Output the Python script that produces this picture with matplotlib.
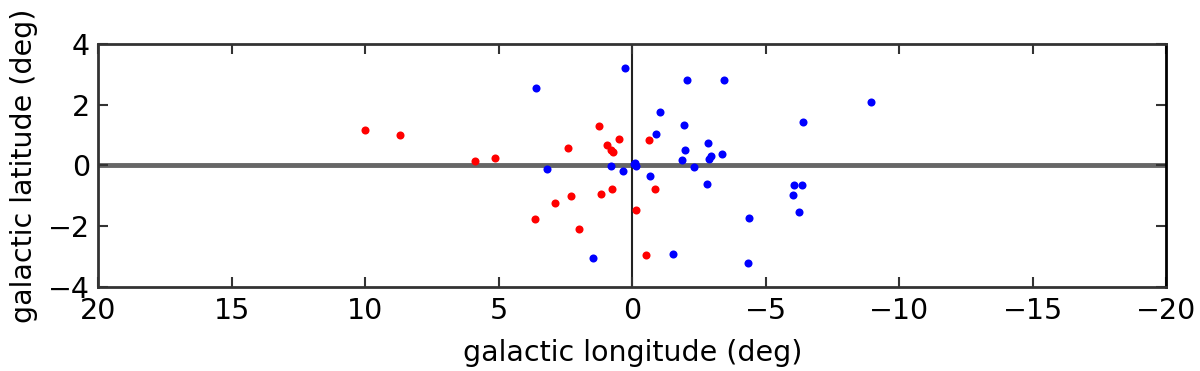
import matplotlib
matplotlib.use("Agg")
import matplotlib.pyplot as plt

red_l = [10.03, 8.69, 5.90, 5.16, 2.43, 1.25, 0.50, 0.94, 0.80, 0.72, -0.61,
         0.75, 1.18, 2.31, 2.89, -0.83, -0.12, 3.64, 2.00, -0.51]
red_b = [1.16, 1.02, 0.16, 0.25, 0.57, 1.29, 0.87, 0.66, 0.52, 0.45, 0.83,
         -0.78, -0.95, -1.01, -1.25, -0.78, -1.48, -1.75, -2.10, -2.94]

blue_l = [3.60, 0.28, -2.04, -3.44, -8.93, -1.02, -6.39, -1.93, -0.87, -2.84,
          -1.97, -1.87, -2.86, -2.96, -3.34, -2.31, 3.18, 0.79, 0.35, -0.05,
          -0.15, -0.10, -0.66, -2.78, -6.05, -6.35, -6.00, -6.25, -4.36, -4.33,
          1.47, -1.51]
blue_b = [2.56, 3.23, 2.82, 2.82, 2.08, 1.76, 1.43, 1.33, 1.05, 0.74,
          0.50, 0.17, 0.20, 0.31, 0.37, -0.05, -0.11, -0.02, -0.18, 0.05,
          -0.03, 0.08, -0.34, -0.61, -0.65, -0.63, -0.98, -1.53, -1.73, -3.23,
          -3.05, -2.92]

xticks = [20, 15, 10, 5, 0, -5, -10, -15, -20]
yticks = [-4, -2, 0, 2, 4]

fig = plt.figure(figsize=(12, 3.71), dpi=100)
ax = fig.add_axes([0.082, 0.227, 0.890, 0.654])

ax.axhline(0, color="#666666", lw=3.5, zorder=1)
ax.axvline(0, color="#222222", lw=1.5, zorder=1)
ax.plot(red_l, red_b, "o", color="#ff0000", ms=5.8, mec="none", zorder=3)
ax.plot(blue_l, blue_b, "o", color="#0000ff", ms=5.8, mec="none", zorder=3)

ax.set_xlim(20, -20)
ax.set_ylim(-4, 4)
ax.set_xticks(xticks)
ax.set_yticks(yticks)
ax.set_xticklabels(["\u2212" + str(-t) if t < 0 else str(t) for t in xticks])
ax.set_yticklabels(["\u2212" + str(-t) if t < 0 else str(t) for t in yticks])
ax.tick_params(direction="in", top=True, right=True, length=7, width=1.5,
               labelsize=20.5, colors="#333333", labelcolor="black")
ax.tick_params(axis="x", pad=7.5)
ax.tick_params(axis="y", pad=6)
for s in ax.spines.values():
    s.set_linewidth(2)
    s.set_color("#333333")
ax.spines["right"].set_color("black")

ax.set_xlabel("galactic longitude (deg)", fontsize=20.5, labelpad=10)
ax.set_ylabel("galactic latitude (deg)", fontsize=20.5, labelpad=7)

fig.savefig("out.png", dpi=100)
